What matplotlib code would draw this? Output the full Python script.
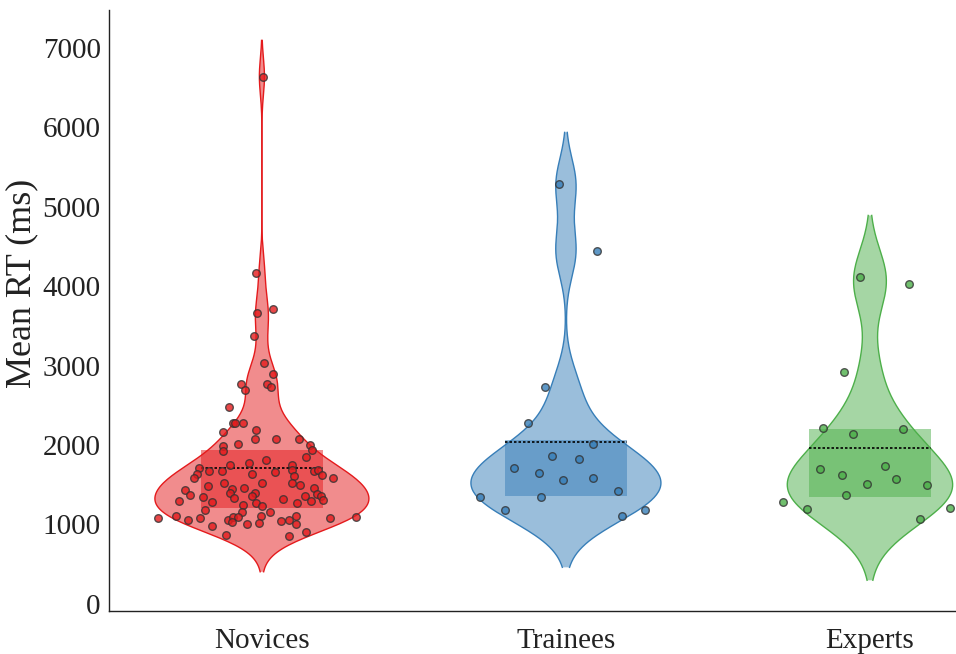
import numpy as np
import matplotlib
matplotlib.use("Agg")
import matplotlib.pyplot as plt
from matplotlib.patches import Rectangle

plt.rcParams['font.family'] = ['Liberation Serif', 'DejaVu Serif']

groups = ["Novices", "Trainees", "Experts"]
colors = ["#e41a1c", "#377eb8", "#4daf4a"]

# Mean reaction times per participant (ms)
novices_rt = [6640, 4165, 3709, 3659, 3375,
              3031, 2897, 2764, 2695, 2767, 2733, 2472, 2276, 2280, 2280,
              2157, 2191, 2078, 2078, 2074, 1990, 2009, 2002, 1939, 1921,
              1851, 1807, 1772, 1742, 1751, 1709, 1688, 1675, 1666, 1662,
              1675, 1688, 1637, 1637, 1606, 1616, 1578, 1578, 1520, 1520,
              1524, 1495, 1477, 1445, 1457, 1461, 1436, 1394, 1375, 1394,
              1351, 1348, 1335, 1382, 1351, 1351, 1322, 1310, 1291, 1276,
              1268, 1234, 1238, 1297, 1266, 1184, 1155, 1155, 1073, 1099,
              1083, 1052, 1052, 1096, 1092, 1030, 1099, 1108, 1074, 1093,
              982, 1008, 1011, 1039, 1055, 1008, 859, 856, 897]
trainees_rt = [5286, 4437, 2729, 2276, 2011, 1855, 1822, 1704, 1646,
               1562, 1583, 1419, 1344, 1348, 1184, 1184, 1108]
experts_rt = [4118, 4021, 2918, 2208, 2137, 2204, 1700, 1729, 1621,
              1574, 1511, 1490, 1364, 1281, 1188, 1200, 1067]

# Horizontal jitter of each point around its group position
novices_jit = [0.003, -0.020, 0.038, -0.015, -0.026,
               0.007, 0.035, -0.069, -0.054, 0.017, 0.031, -0.109, -0.096, -0.087, -0.063,
               -0.128, -0.019, -0.023, 0.046, 0.122, -0.127, -0.079, 0.158, 0.164, -0.127,
               0.146, 0.014, -0.043, -0.104, 0.099, -0.208, 0.100, -0.174, -0.132, 0.043,
               0.170, 0.183, -0.215, -0.033, 0.105, 0.197, -0.224, 0.235, -0.125, 0.000,
               0.100, 0.124, -0.177, -0.097, -0.059, 0.170, -0.252, -0.104, -0.238, -0.023,
               -0.033, -0.193, -0.092, 0.182, 0.142, 0.194, 0.070, 0.201, -0.273, -0.164,
               -0.021, -0.001, -0.061, 0.161, 0.115, -0.188, 0.026, -0.067, -0.342, -0.284,
               -0.202, -0.242, -0.111, -0.096, -0.079, -0.098, -0.004, 0.111, 0.224, 0.309,
               -0.165, -0.050, -0.009, 0.064, 0.089, 0.111, -0.117, 0.088, 0.144]
trainees_jit = [-0.024, 0.102, -0.069, -0.124, 0.088, -0.045, 0.044, -0.170, -0.090,
                -0.010, 0.090, 0.172, -0.283, -0.082, -0.201, 0.260, 0.183]
experts_jit = [-0.034, 0.128, -0.086, -0.155, -0.056, 0.110, -0.164, 0.050, -0.091,
               0.085, -0.009, 0.187, -0.080, -0.287, -0.207, 0.262, 0.164]

# Box bounds and centre line per group (ms)
box_low = [1200, 1360, 1344]
box_high = [1931, 2065, 2200]
box_mid = [1709, 2031, 1961]

# KDE bandwidths (ms) and violin half-widths
bandwidths = [227, 325, 386]
half_widths = [0.352, 0.3125, 0.272]

data = [novices_rt, trainees_rt, experts_rt]
jitters = [novices_jit, trainees_jit, experts_jit]


def kde(values, bw, cut=2.0, n=300):
    v = np.asarray(values, dtype=float)
    grid = np.linspace(v.min() - cut * bw, v.max() + cut * bw, n)
    dens = np.exp(-0.5 * ((grid[:, None] - v[None, :]) / bw) ** 2).sum(axis=1)
    return grid, dens / dens.max()


fig = plt.figure(figsize=(9.56, 6.54), dpi=100)
ax = fig.add_axes([0.114, 0.066, 0.886, 0.919])

for i, (vals, jit, col) in enumerate(zip(data, jitters, colors)):
    grid, dens = kde(vals, bandwidths[i])
    w = dens * half_widths[i]
    ax.fill_betweenx(grid, i - w, i + w, facecolor=col, alpha=0.5,
                     edgecolor="none", zorder=1)
    ax.plot(i - w, grid, color=col, lw=1.0, zorder=1.5)
    ax.plot(i + w, grid, color=col, lw=1.0, zorder=1.5)
    ax.add_patch(Rectangle((i - 0.2, box_low[i]), 0.4, box_high[i] - box_low[i],
                           facecolor=col, alpha=0.5, edgecolor="none", zorder=2))
    ax.plot([i - 0.2, i + 0.2], [box_mid[i], box_mid[i]], color="black",
            lw=1.2, ls=(0, (1.5, 1.2)), zorder=3)
    ax.scatter(np.array(jit) + i, vals, s=30, facecolor=col, edgecolor="#333333",
               linewidth=1.0, alpha=0.8, zorder=4)

ax.set_xlim(-0.503, 2.283)
ax.set_ylim(-90, 7480)
ax.set_xticks(range(len(groups)))
ax.set_xticklabels(groups)
ax.set_yticks(np.arange(0, 7001, 1000))
ax.tick_params(axis="both", length=0, labelsize=21, colors="#222222")
ax.tick_params(axis="x", pad=12)
ax.tick_params(axis="y", pad=6)
ax.set_ylabel("Mean RT (ms)", fontsize=26, color="#222222")
ax.yaxis.set_label_coords(-0.083, 0.545)
for side in ("top", "right"):
    ax.spines[side].set_visible(False)
for side in ("left", "bottom"):
    ax.spines[side].set_linewidth(1.0)
    ax.spines[side].set_color("#222222")

fig.savefig("out.png", dpi=100, facecolor="white")
